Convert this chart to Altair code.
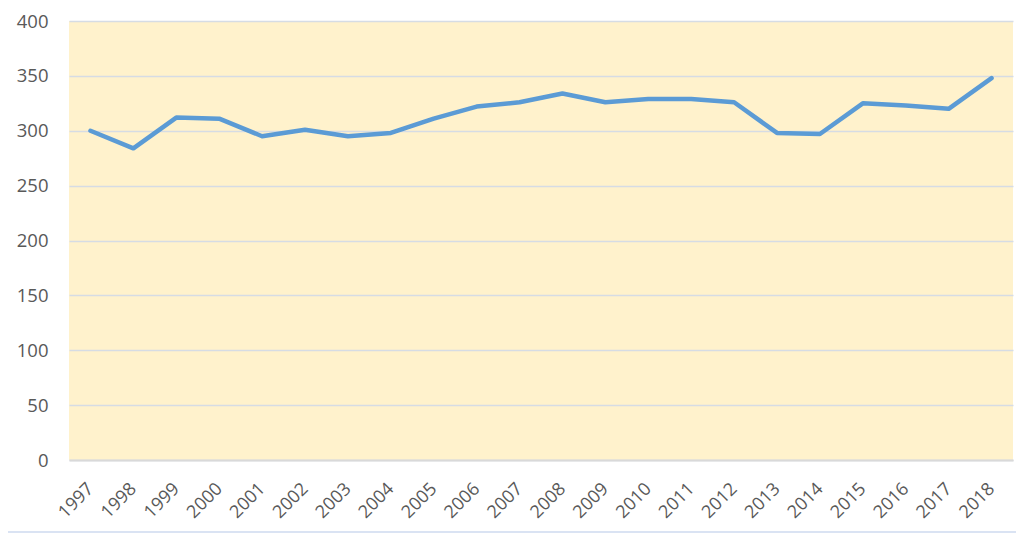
import altair as alt
import pandas as pd

years = [str(y) for y in range(1997, 2019)]
values = [300, 284, 312, 311, 295, 301, 295, 298, 311, 322, 326, 334, 326, 329, 329, 326, 298, 297, 325, 323, 320, 348]

df = pd.DataFrame({"year": years, "value": values})

font = "Open Sans"
label_color = "#595959"

base = alt.Chart(df)

line = base.mark_line(color="#5B9BD5", strokeWidth=4.5, strokeJoin="round", strokeCap="round").encode(
    x=alt.X("year:O", sort=years,
            scale=alt.Scale(type="point", padding=0.5),
            axis=alt.Axis(title=None, labelAngle=-45, labelAlign="right", labelBaseline="middle",
                          labelPadding=26, ticks=False, domain=True, domainColor="#D9D9D9",
                          domainWidth=2, labelFontSize=18, labelColor=label_color, labelFont=font,
                          grid=False)),
    y=alt.Y("value:Q", scale=alt.Scale(domain=[0, 400], nice=False, zero=True),
            axis=alt.Axis(title=None, values=list(range(0, 401, 50)), ticks=False, domain=False,
                          gridColor="#D6DCE4", gridWidth=1.5, labelPadding=21,
                          labelFontSize=18.5, labelColor=label_color, labelFont=font)),
)

frame = alt.Chart(pd.DataFrame({"v": [0]})).mark_rule(color="#DAE3F3", strokeWidth=2).encode(
    x=alt.value(-66), x2=alt.value(1003), y=alt.value(511)
)

chart = alt.layer(line, frame).properties(
    width=944, height=439,
    background="white",
    autosize=alt.AutoSizeParams(type="none"),
    padding={"left": 61, "top": 13, "right": 3, "bottom": 74},
).configure_view(fill="#FFF2CC", strokeWidth=0)

chart.save("out.html", embed_options={"renderer": "svg", "actions": False})
